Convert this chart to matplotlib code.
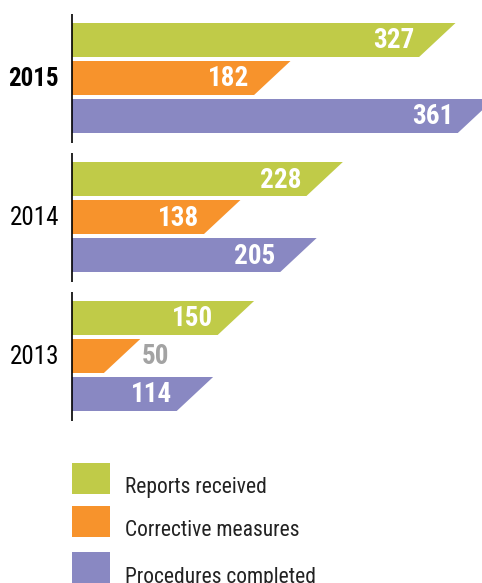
import matplotlib
matplotlib.use('Agg')
import matplotlib.pyplot as plt
from matplotlib.patches import Polygon, Rectangle

years = ['2015', '2014', '2013']
series = ['Reports received', 'Corrective measures', 'Procedures completed']
reports = [327, 228, 150]
corrective = [182, 138, 50]
procedures = [361, 205, 114]
colors = ['#C0CB48', '#F7932C', '#8988C2']

plt.rcParams['font.family'] = ['Roboto Condensed', 'PT Sans Narrow', 'DejaVu Sans']

W, H = 482, 583
fig = plt.figure(figsize=(W / 100, H / 100), dpi=100)
ax = fig.add_axes([0, 0, 1, 1])
px = 1.138  # pixels per unit
ax.set_xlim(-72 / px, (W - 72) / px)
ax.set_ylim(H, 0)
ax.axis('off')

slant_top, slant_bot = 10, -22
bar_h = 34
group_pitch, row_pitch, y0 = 139, 38, 40

for g, year in enumerate(years):
    vals = [reports[g], corrective[g], procedures[g]]
    centers = [y0 + g * group_pitch + i * row_pitch for i in range(3)]
    ax.plot([0, 0], [centers[0] - 26, centers[-1] + 27], color='black', lw=1.2,
            solid_capstyle='butt')
    for i, v in enumerate(vals):
        yc = centers[i]
        top, bot = yc - bar_h / 2, yc + bar_h / 2
        ax.add_patch(Polygon([(0, top), (v + slant_top, top), (v + slant_bot, bot), (0, bot)],
                             closed=True, color=colors[i], lw=0))
        if v > 80:
            ax.text(v + slant_bot - 4, yc + 1, str(v), ha='right', va='center',
                    color='white', fontsize=19.5, fontweight='bold')
        else:
            ax.text(v + slant_top + 1, yc + 1, str(v), ha='left', va='center',
                    color='#A3A3A3', fontsize=19.5, fontweight='bold')
    ax.text(-13 / px, centers[1] + 1, year, ha='right', va='center', fontsize=18,
            color='black', fontweight='bold' if g == 0 else 'normal')

# legend
leg_y = [478, 521, 567]
for i, name in enumerate(series):
    ax.add_patch(Rectangle((0, leg_y[i] - 15), 38 / px, 31, color=colors[i], lw=0))
    ax.text(53 / px, leg_y[i] + 10, name, ha='left', va='center', fontsize=15.5,
            color='#222222')

fig.savefig('out.png', dpi=100)
